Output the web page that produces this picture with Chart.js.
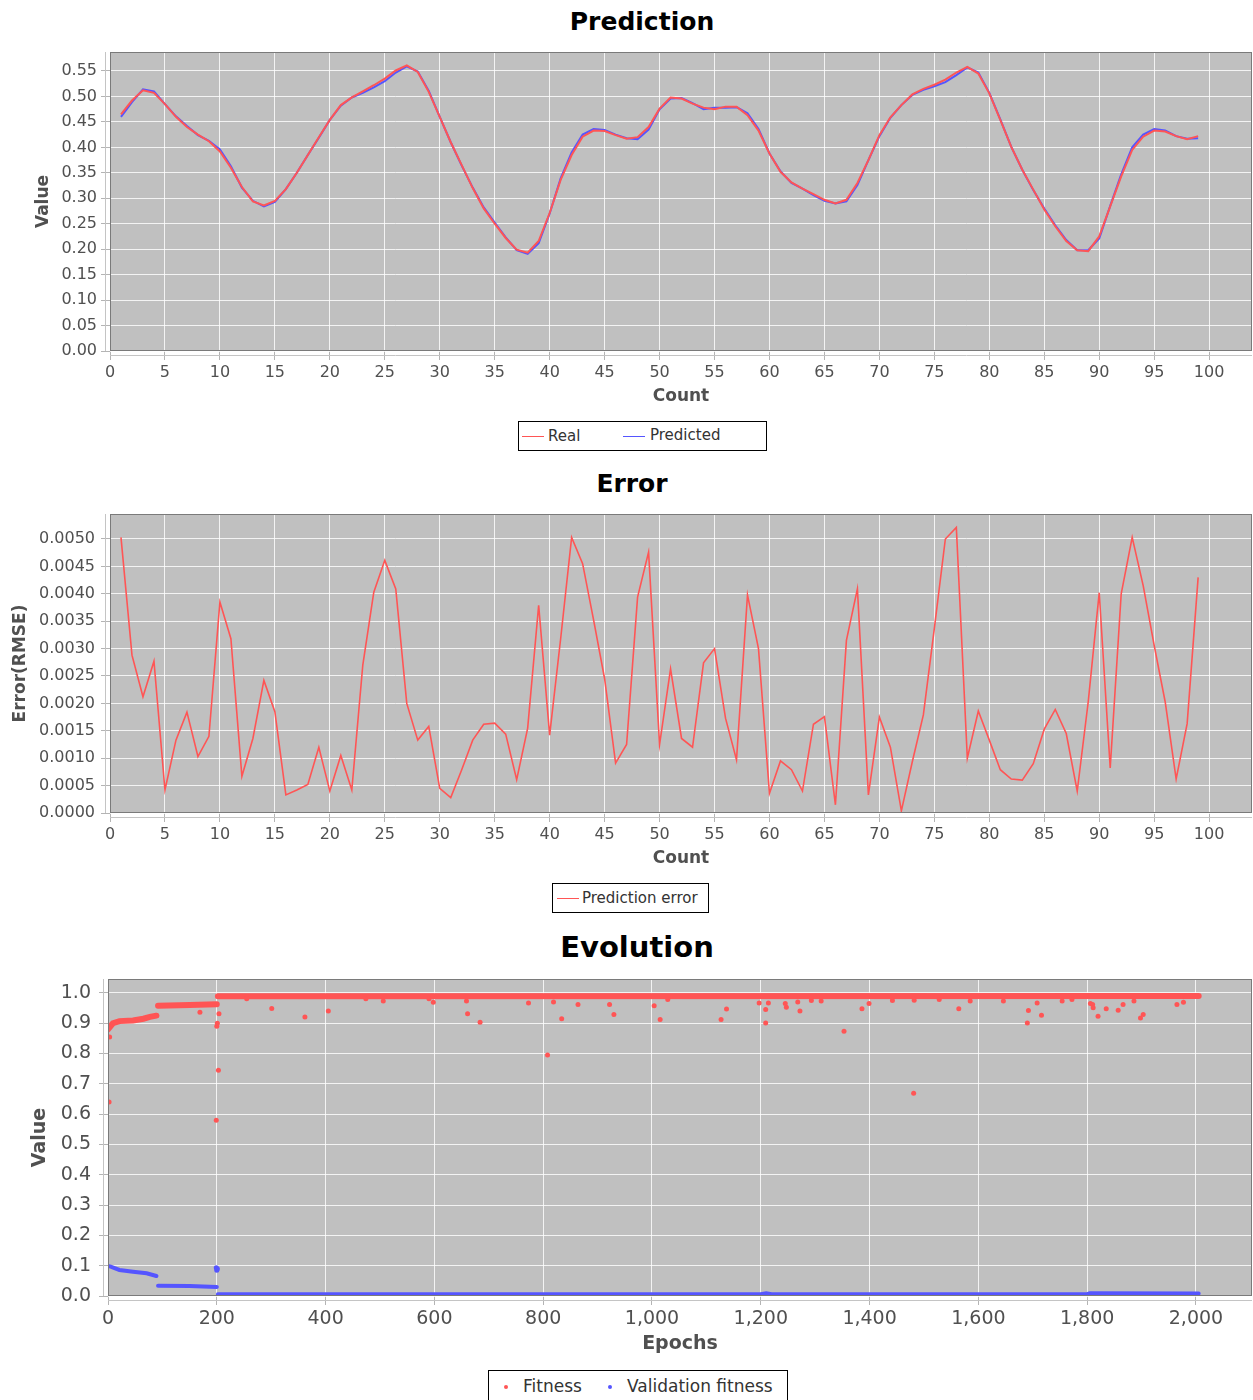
<!DOCTYPE html>
<html>
<head>
<meta charset="utf-8">
<title>Prediction / Error / Evolution</title>
<script src="https://cdn.jsdelivr.net/npm/chart.js@4.4.1/dist/chart.umd.min.js"></script>
<style>
  html, body { margin: 0; padding: 0; background: #fff; }
  #page { position: relative; width: 1253px; height: 1400px; overflow: hidden; font-family: "DejaVu Sans", sans-serif; }
  .chart-title { position: absolute; width: 400px; text-align: center; font-weight: bold; color: #000; }
  .chart-box { position: absolute; left: 0; }
  .legend { position: absolute; border: 1px solid #000; box-sizing: border-box; background: #fff; color: #333; }
  .legend span { position: absolute; white-space: nowrap; }
  .swatch-line { height: 0; border-top: 1px solid; }
  .swatch-dot { width: 4px; height: 4px; border-radius: 50%; }
</style>
</head>
<body>
<div id="page">
  <div class="chart-title" style="left:442px;top:5px;font-size:25px;line-height:34px;">Prediction</div>
  <div class="chart-box" style="top:48px;"><canvas id="prediction-chart" width="1253" height="359"></canvas></div>
  <div class="legend" style="left:518px;top:421px;width:249px;height:30px;font-size:15px;">
    <span class="swatch-line" style="left:3px;top:14px;width:22px;border-color:#ff5555;"></span>
    <span style="left:29px;top:0;line-height:28px;">Real</span>
    <span class="swatch-line" style="left:104px;top:14px;width:22px;border-color:#5555ff;"></span>
    <span style="left:131px;top:0;line-height:26px;">Predicted</span>
  </div>

  <div class="chart-title" style="left:432px;top:467px;font-size:25px;line-height:34px;">Error</div>
  <div class="chart-box" style="top:510px;"><canvas id="error-chart" width="1253" height="359"></canvas></div>
  <div class="legend" style="left:552px;top:883px;width:157px;height:30px;font-size:15px;">
    <span class="swatch-line" style="left:4px;top:14px;width:22px;border-color:#ff5555;"></span>
    <span style="left:29px;top:0;line-height:28px;">Prediction error</span>
  </div>

  <div class="chart-title" style="left:437px;top:928px;font-size:29px;line-height:38px;">Evolution</div>
  <div class="chart-box" style="top:975px;"><canvas id="evolution-chart" width="1253" height="380"></canvas></div>
  <div class="legend" style="left:488px;top:1370px;width:300px;height:32px;font-size:17px;">
    <span class="swatch-dot" style="left:15px;top:14px;background:#ff5555;"></span>
    <span style="left:34px;top:0;line-height:30px;">Fitness</span>
    <span class="swatch-dot" style="left:119px;top:14px;background:#5555ff;"></span>
    <span style="left:138px;top:0;line-height:30px;">Validation fitness</span>
  </div>
</div>

<script>
/* ---- Data: Prediction ---- */
const counts = Array.from({ length: 99 }, (_, i) => i + 1);

const realValues = [
  0.465, 0.492, 0.512, 0.507, 0.485, 0.460, 0.440, 0.425, 0.412, 0.392,
  0.360, 0.322, 0.294, 0.286, 0.295, 0.318, 0.350, 0.385, 0.420, 0.454,
  0.483, 0.498, 0.510, 0.522, 0.535, 0.551, 0.561, 0.548, 0.509, 0.460,
  0.410, 0.365, 0.320, 0.280, 0.250, 0.222, 0.199, 0.193, 0.216, 0.271,
  0.336, 0.385, 0.421, 0.433, 0.432, 0.424, 0.417, 0.420, 0.440, 0.476,
  0.498, 0.496, 0.486, 0.478, 0.475, 0.480, 0.480, 0.463, 0.433, 0.388,
  0.352, 0.331, 0.319, 0.308, 0.297, 0.290, 0.297, 0.330, 0.375, 0.424,
  0.459, 0.483, 0.504, 0.515, 0.523, 0.533, 0.547, 0.558, 0.545, 0.506,
  0.454, 0.401, 0.356, 0.317, 0.278, 0.245, 0.216, 0.198, 0.196, 0.225,
  0.284, 0.343, 0.395, 0.421, 0.433, 0.431, 0.422, 0.416, 0.422
];

const predictedValues = [
  0.460, 0.489, 0.514, 0.510, 0.485, 0.461, 0.442, 0.424, 0.413, 0.396,
  0.363, 0.321, 0.295, 0.284, 0.293, 0.318, 0.350, 0.385, 0.419, 0.454,
  0.482, 0.498, 0.507, 0.518, 0.530, 0.547, 0.559, 0.549, 0.511, 0.460,
  0.410, 0.364, 0.321, 0.282, 0.252, 0.223, 0.198, 0.191, 0.212, 0.270,
  0.339, 0.390, 0.425, 0.436, 0.434, 0.425, 0.418, 0.416, 0.435, 0.475,
  0.496, 0.497, 0.487, 0.475, 0.478, 0.478, 0.479, 0.467, 0.436, 0.388,
  0.353, 0.330, 0.319, 0.306, 0.295, 0.290, 0.294, 0.326, 0.375, 0.422,
  0.458, 0.483, 0.503, 0.513, 0.520, 0.528, 0.542, 0.557, 0.547, 0.507,
  0.455, 0.401, 0.356, 0.316, 0.280, 0.247, 0.218, 0.198, 0.198, 0.221,
  0.285, 0.347, 0.400, 0.425, 0.436, 0.433, 0.422, 0.417, 0.418
];

/* ---- Data: Error ---- */
const errorValues = [
  0.00503, 0.00288, 0.00212, 0.00277, 0.00042, 0.00133, 0.00184, 0.00103, 0.00140, 0.00385,
  0.00318, 0.00067, 0.00136, 0.00242, 0.00185, 0.00033, 0.00042, 0.00052, 0.00120, 0.00040,
  0.00105, 0.00042, 0.00270, 0.00403, 0.00461, 0.00409, 0.00200, 0.00133, 0.00158, 0.00045,
  0.00028, 0.00079, 0.00133, 0.00162, 0.00164, 0.00144, 0.00061, 0.00155, 0.00379, 0.00142,
  0.00318, 0.00503, 0.00455, 0.00352, 0.00245, 0.00091, 0.00125, 0.00394, 0.00476, 0.00125,
  0.00263, 0.00136, 0.00120, 0.00274, 0.00300, 0.00173, 0.00097, 0.00398, 0.00300, 0.00036,
  0.00095, 0.00079, 0.00040, 0.00162, 0.00176, 0.00015, 0.00315, 0.00409, 0.00033, 0.00175,
  0.00120, 0.00004, 0.00094, 0.00179, 0.00337, 0.00500, 0.00521, 0.00100, 0.00186, 0.00133,
  0.00079, 0.00062, 0.00060, 0.00090, 0.00153, 0.00189, 0.00145, 0.00040, 0.00203, 0.00402,
  0.00082, 0.00400, 0.00503, 0.00415, 0.00306, 0.00203, 0.00062, 0.00163, 0.00430
];

/* ---- Data: Evolution ---- */
// dense runs of dots, read as breakpoints (null = break between runs)
const fitnessTrendEpochs = [0, 9, 21, 46, 65, 77, 89, 91, 92, 150, 200, 201, 202, 2005];
const fitnessTrendValues = [0.880, 0.900, 0.907, 0.909, 0.915, 0.921, 0.925, null, 0.958, 0.960, 0.963, null, 0.989, 0.990];

const validTrendEpochs = [0, 5, 21, 46, 71, 89, 91, 92, 150, 200, 201, 202, 1200, 1210, 1220, 1800, 1805, 2005];
const validTrendValues = [0.099, 0.097, 0.086, 0.080, 0.075, 0.066, null, 0.034, 0.033, 0.030, null, 0.006, 0.006, 0.009, 0.006, 0.006, 0.009, 0.008];

// isolated dots
const fitnessOutlierEpochs = [
  2, 3, 169, 199, 200, 201, 203, 204, 255, 301, 362, 405, 474, 506, 590, 598, 659, 661, 684,
  773, 808, 819, 834, 864, 922, 930, 1004, 1015, 1029, 1127, 1137, 1197, 1209, 1209, 1214,
  1245, 1247, 1268, 1272, 1293, 1311, 1353, 1386, 1399, 1442, 1481, 1482, 1528, 1564, 1585,
  1646, 1690, 1692, 1708, 1716, 1754, 1772, 1806, 1810, 1811, 1820, 1835, 1857, 1866, 1886,
  1898, 1903, 1965, 1977
];
const fitnessOutlierValues = [
  0.640, 0.855, 0.936, 0.580, 0.890, 0.900, 0.745, 0.931, 0.981, 0.949, 0.921, 0.940, 0.981, 0.973, 0.981, 0.969, 0.973, 0.931, 0.903,
  0.967, 0.795, 0.970, 0.915, 0.962, 0.962, 0.929, 0.958, 0.912, 0.978, 0.912, 0.947, 0.967, 0.945, 0.901, 0.967,
  0.965, 0.953, 0.970, 0.940, 0.975, 0.973, 0.874, 0.948, 0.965, 0.975, 0.669, 0.976, 0.978, 0.948, 0.973,
  0.973, 0.901, 0.942, 0.967, 0.926, 0.973, 0.978, 0.965, 0.962, 0.951, 0.923, 0.948, 0.943, 0.962, 0.973,
  0.917, 0.929, 0.962, 0.969
];
const validOutlierEpochs = [199, 200, 201];
const validOutlierValues = [0.093, 0.085, 0.090];

/* ---- Colours & fonts ---- */
const RED = '#ff5555';
const BLUE = '#5555ff';
const FONT = '"DejaVu Sans", sans-serif';
const TEXT = '#505050';

/* ------------------------------------------------------------------ */
/*  Plot background, outline and offset axis lines (JFreeChart look)   */
/* ------------------------------------------------------------------ */
const plotFrame = {
  id: 'plotFrame',
  beforeDraw(chart) {
    const { ctx, chartArea: a } = chart;
    ctx.save();
    ctx.fillStyle = '#c0c0c0';
    ctx.fillRect(a.left, a.top, a.right - a.left, a.bottom - a.top);
    ctx.restore();
  },
  afterDraw(chart) {
    const { ctx, chartArea: a } = chart;
    ctx.save();
    ctx.strokeStyle = '#7a7a7a';
    ctx.lineWidth = 1;
    ctx.strokeRect(a.left + 0.5, a.top + 0.5, a.right - a.left - 1, a.bottom - a.top - 1);
    ctx.strokeStyle = '#c4c4c4';
    ctx.beginPath();
    ctx.moveTo(a.left - 4.5, a.top);
    ctx.lineTo(a.left - 4.5, a.bottom);
    ctx.moveTo(a.left, a.bottom + 4.5);
    ctx.lineTo(a.right, a.bottom + 4.5);
    ctx.stroke();
    ctx.restore();
  }
};

function toPoints(xs, ys) {
  return xs.map((x, i) => ({ x, y: ys[i] }));
}

function axis(o) {
  return {
    type: 'linear',
    position: o.position,
    min: o.min,
    max: o.max,
    afterFit(scale) {
      if (o.position === 'bottom') scale.height = o.size;
      else scale.width = o.size;
      scale.paddingTop = scale.paddingBottom = scale.paddingLeft = scale.paddingRight = 0;
    },
    grid: {
      color: 'rgba(255,255,255,0.8)',
      lineWidth: 1,
      borderDash: [2, 2],
      drawTicks: true,
      tickLength: 9,
      tickColor: '#b4b4b4',
      tickBorderDash: [],
      tickWidth: 1
    },
    border: { display: false },
    ticks: {
      stepSize: o.step,
      includeBounds: false,
      autoSkip: false,
      maxRotation: 0,
      padding: o.tickPad,
      color: TEXT,
      font: { family: FONT, size: o.tickSize },
      callback: o.fmt
    },
    title: {
      display: true,
      text: o.title,
      color: TEXT,
      font: { family: FONT, size: o.titleSize, weight: 'bold' },
      padding: o.titlePad
    }
  };
}

function baseOptions(x, y) {
  return {
    animation: false,
    responsive: false,
    maintainAspectRatio: false,
    layout: { padding: { top: 4, right: 1, left: 0, bottom: 0 }, autoPadding: false },
    plugins: { legend: { display: false }, tooltip: { enabled: false } },
    scales: { x: axis(x), y: axis(y) }
  };
}

/* ------------------------------------------------------------------ */
/*  Prediction                                                         */
/* ------------------------------------------------------------------ */
new Chart(document.getElementById('prediction-chart'), {
  type: 'scatter',
  data: {
    datasets: [
      { label: 'Real', data: toPoints(counts, realValues), showLine: true, borderColor: RED, borderWidth: 2, pointRadius: 0 },
      { label: 'Predicted', data: toPoints(counts, predictedValues), showLine: true, borderColor: BLUE, borderWidth: 2, pointRadius: 0 }
    ]
  },
  options: baseOptions(
    { position: 'bottom', min: 0, max: 103.9, step: 5, size: 56, tickPad: 3, tickSize: 16,
      fmt: (v) => String(v), title: 'Count', titleSize: 17, titlePad: { top: 0, bottom: 0 } },
    { position: 'left', min: 0, max: 0.5873, step: 0.05, size: 110, tickPad: 4, tickSize: 16,
      fmt: (v) => Number(v).toFixed(2), title: 'Value', titleSize: 17, titlePad: { top: 33, bottom: 0 } }
  ),
  plugins: [plotFrame]
});

/* ------------------------------------------------------------------ */
/*  Error                                                              */
/* ------------------------------------------------------------------ */
new Chart(document.getElementById('error-chart'), {
  type: 'scatter',
  data: {
    datasets: [
      { label: 'Prediction error', data: toPoints(counts, errorValues), showLine: true, borderColor: RED, borderWidth: 1.6, pointRadius: 0 }
    ]
  },
  options: baseOptions(
    { position: 'bottom', min: 0, max: 103.9, step: 5, size: 56, tickPad: 3, tickSize: 16,
      fmt: (v) => String(v), title: 'Count', titleSize: 17, titlePad: { top: 0, bottom: 0 } },
    { position: 'left', min: 0, max: 0.005456, step: 0.0005, size: 110, tickPad: 6, tickSize: 16,
      fmt: (v) => Number(v).toFixed(4), title: 'Error(RMSE)', titleSize: 17, titlePad: { top: 10, bottom: 0 } }
  ),
  plugins: [plotFrame]
});

/* ------------------------------------------------------------------ */
/*  Evolution                                                          */
/* ------------------------------------------------------------------ */
new Chart(document.getElementById('evolution-chart'), {
  type: 'scatter',
  data: {
    datasets: [
      { label: 'Fitness', data: toPoints(fitnessOutlierEpochs, fitnessOutlierValues),
        backgroundColor: RED, borderWidth: 0, pointRadius: 2.5 },
      { label: 'Fitness run', data: toPoints(fitnessTrendEpochs, fitnessTrendValues), showLine: true,
        borderColor: RED, borderWidth: 6, borderCapStyle: 'round', pointRadius: 0 },
      { label: 'Validation fitness', data: toPoints(validOutlierEpochs, validOutlierValues),
        backgroundColor: BLUE, borderWidth: 0, pointRadius: 2.5 },
      { label: 'Validation run', data: toPoints(validTrendEpochs, validTrendValues), showLine: true,
        borderColor: BLUE, borderWidth: 4, borderCapStyle: 'round', pointRadius: 0 }
    ]
  },
  options: baseOptions(
    { position: 'bottom', min: 0, max: 2103, step: 200, size: 59, tickPad: 3, tickSize: 19,
      fmt: (v) => Number(v).toLocaleString('en-US'), title: 'Epochs', titleSize: 19, titlePad: { top: 0, bottom: 0 } },
    { position: 'left', min: 0, max: 1.046, step: 0.1, size: 108, tickPad: 8, tickSize: 19,
      fmt: (v) => Number(v).toFixed(1), title: 'Value', titleSize: 19, titlePad: { top: 29, bottom: 0 } }
  ),
  plugins: [plotFrame]
});
</script>
</body>
</html>
